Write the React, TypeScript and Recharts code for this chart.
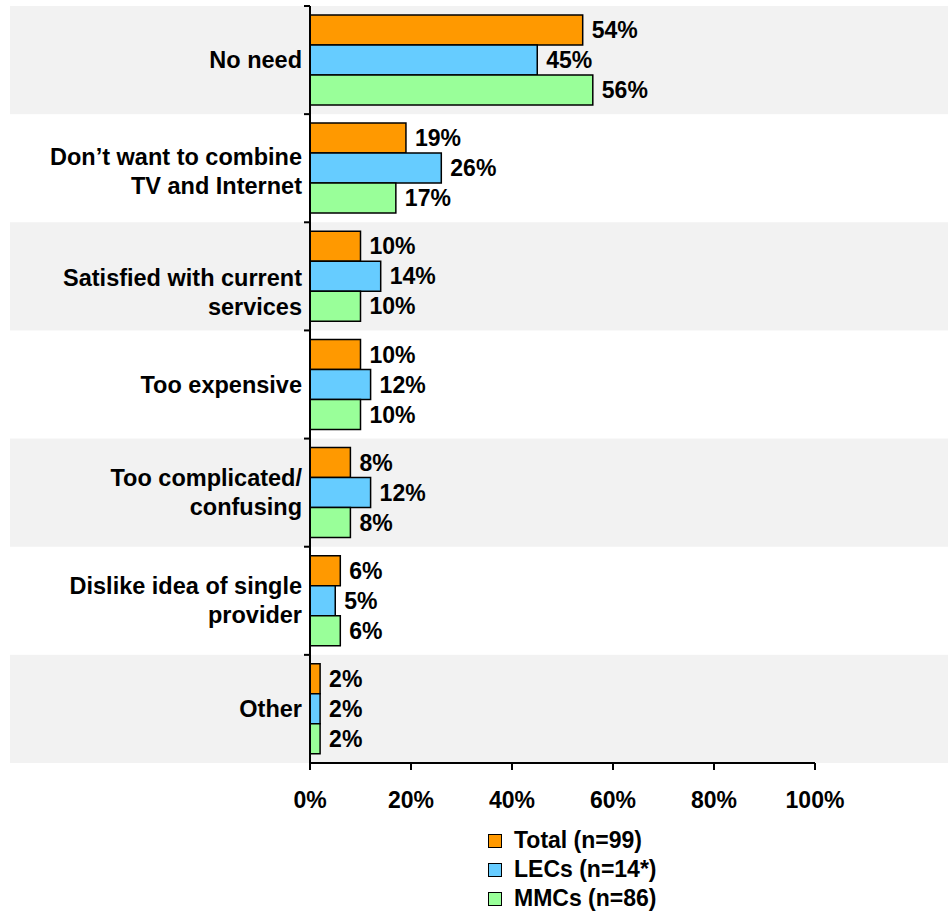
import React from 'react';
import {
  BarChart,
  Bar,
  XAxis,
  YAxis,
  LabelList,
  Legend,
  ReferenceArea,
} from 'recharts';

const categories = [
  'No need',
  'Don’t want to combine\nTV and Internet',
  'Satisfied with current\nservices',
  'Too expensive',
  'Too complicated/\nconfusing',
  'Dislike idea of single\nprovider',
  'Other',
];
const totalValues = [54, 19, 10, 10, 8, 6, 2];
const lecValues = [45, 26, 14, 12, 12, 5, 2];
const mmcValues = [56, 17, 10, 10, 8, 6, 2];
const xTicks = [0, 20, 40, 60, 80, 100];

const seriesNames = ['Total (n=99)', 'LECs (n=14*)', 'MMCs (n=86)'];

const data = categories.map((category, i) => ({
  category,
  total: totalValues[i],
  lecs: lecValues[i],
  mmcs: mmcValues[i],
}));

const FONT = 'Arial, "Liberation Sans", Helvetica, sans-serif';

// the original deck had a couple of labels sitting a bit low in their rows
const labelNudge: Record<number, number> = { 1: 3, 2: 16 };

function CategoryTick({ x, y, payload, index }: any) {
  const lines = String(payload.value).split('\n');
  const lh = 29;
  const nudge = labelNudge[index] || 0;
  return (
    <text
      x={x}
      y={y + nudge}
      textAnchor="end"
      fill="#000"
      fontFamily={FONT}
      fontWeight="bold"
      fontSize={23.5}
    >
      {lines.map((line, i) => (
        <tspan key={i} x={x} dy={i === 0 ? -((lines.length - 1) * lh) / 2 + 8 : lh}>
          {line}
        </tspan>
      ))}
    </text>
  );
}

// background stripe for a category slot + the small tick at its top edge
function BandShape(props: any) {
  const { x, y, height, shaded } = props;
  return (
    <g>
      {shaded && <rect x={10} y={y} width={938} height={height} fill="#F2F2F2" />}
      <line x1={x - 6} x2={x} y1={y} y2={y} stroke="#000" strokeWidth={2} />
    </g>
  );
}

function LegendBox({ payload }: any) {
  const items = [...(payload || [])].sort(
    (a: any, b: any) => seriesNames.indexOf(a.value) - seriesNames.indexOf(b.value)
  );
  return (
    <div style={{ fontFamily: FONT, fontWeight: 'bold', fontSize: 23, color: '#000' }}>
      {items.map((entry: any) => (
        <div key={entry.value} style={{ display: 'flex', alignItems: 'center', height: 29 }}>
          <span
            style={{
              display: 'inline-block',
              width: 12,
              height: 12,
              background: entry.color,
              border: '1.5px solid #000',
              marginRight: 12,
            }}
          />
          <span>{entry.value}</span>
        </div>
      ))}
    </div>
  );
}

const labelStyle = { fill: '#000', fontSize: 23, fontWeight: 'bold', fontFamily: FONT };

export default function App() {
  return (
    <div style={{ position: 'absolute', left: 0, top: 0 }}>
      <BarChart
        width={948}
        height={913}
        data={data}
        layout="vertical"
        margin={{ top: 6, right: 133, bottom: 120, left: 0 }}
        barCategoryGap="8.3%"
        barGap={0}
      >
        {categories.map((c, i) => (
          <ReferenceArea
            key={c}
            y1={c}
            y2={c}
            fill="none"
            stroke="none"
            shape={(p: any) => <BandShape {...p} shaded={i % 2 === 0} />}
          />
        ))}
        <XAxis
          type="number"
          domain={[0, 100]}
          ticks={xTicks}
          height={30}
          tickFormatter={(v) => `${v}%`}
          axisLine={{ stroke: '#000', strokeWidth: 2 }}
          tickLine={{ stroke: '#000', strokeWidth: 2 }}
          tickSize={7}
          tickMargin={22}
          tick={{ fill: '#000', fontSize: 23, fontWeight: 'bold', fontFamily: FONT }}
        />
        <YAxis
          type="category"
          dataKey="category"
          width={310}
          interval={0}
          axisLine={{ stroke: '#000', strokeWidth: 2 }}
          tickLine={false}
          tickSize={0}
          tickMargin={8}
          tick={<CategoryTick />}
        />
        <Legend
          layout="vertical"
          align="center"
          verticalAlign="middle"
          content={<LegendBox />}
          wrapperStyle={{ left: 488, top: 826, width: 'auto' }}
        />
        <Bar dataKey="total" name={seriesNames[0]} fill="#FF9900" stroke="#000" strokeWidth={1.5} isAnimationActive={false}>
          <LabelList dataKey="total" position="right" offset={9} formatter={(v: any) => `${v}%`} style={labelStyle} />
        </Bar>
        <Bar dataKey="lecs" name={seriesNames[1]} fill="#66CCFF" stroke="#000" strokeWidth={1.5} isAnimationActive={false}>
          <LabelList dataKey="lecs" position="right" offset={9} formatter={(v: any) => `${v}%`} style={labelStyle} />
        </Bar>
        <Bar dataKey="mmcs" name={seriesNames[2]} fill="#99FF99" stroke="#000" strokeWidth={1.5} isAnimationActive={false}>
          <LabelList dataKey="mmcs" position="right" offset={9} formatter={(v: any) => `${v}%`} style={labelStyle} />
        </Bar>
      </BarChart>
    </div>
  );
}
